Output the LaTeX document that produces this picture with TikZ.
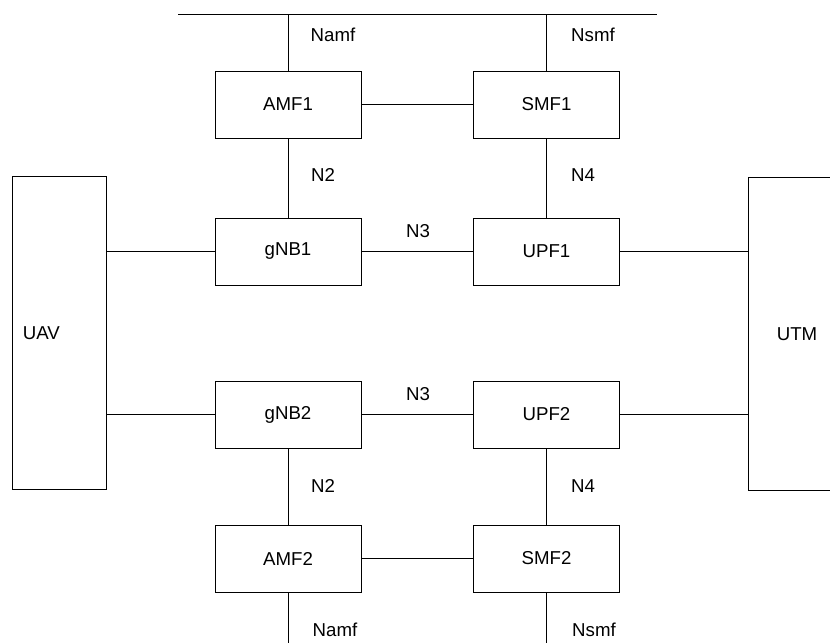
\documentclass[tikz,border=0pt]{standalone}
\usepackage{fontspec}
\setmainfont{Liberation Sans}
\usetikzlibrary{positioning, calc}

\begin{document}
\begin{tikzpicture}[
    x=0.75pt, y=-0.75pt,
    line width=0.65pt,
    nf/.style={draw, rectangle, minimum width=109.5pt, minimum height=50.25pt, align=center, fill=white, font=\fontsize{14}{16}\selectfont},
    endpoint/.style={draw, rectangle, minimum width=70pt, minimum height=235pt, fill=white, font=\fontsize{14}{16}\selectfont},
    iface/.style={font=\fontsize{14}{16}\selectfont}
]
    \useasboundingbox (0,0) rectangle (830,642);
    \clip (0,0) rectangle (830,642);

    % ================= END POINTS =================
    \node[endpoint, text width=55pt, inner xsep=7.5pt, align=left] (UAV) at (59.5, 333) {UAV};
    \node[endpoint, minimum width=73.5pt, align=center] (UTM) at (797, 334) {UTM};

    % ================= NETWORK FUNCTIONS =================
    \node[nf] (AMF1) at (288, 104.5) {AMF1};
    \node[nf] (SMF1) at (546.5, 104.5) {SMF1};
    \node[nf] (gNB1) at (288, 251.5) {gNB1};
    \node[nf] (UPF1) at (546.5, 251.5) {UPF1};
    \node[nf] (gNB2) at (288, 414.5) {gNB2};
    \node[nf] (UPF2) at (546.5, 414.5) {UPF2};
    \node[nf] (AMF2) at (288, 558.5) {AMF2};
    \node[nf] (SMF2) at (546.5, 558.5) {SMF2};

    % ================= SERVICE BUS =================
    \coordinate (busL) at (178, 14);
    \coordinate (busR) at (657, 14);
    \coordinate (floor) at (0, 646);
    \draw (busL) -- (busR);

    \draw (AMF1.north) -- (AMF1.north |- busL);
    \draw (SMF1.north) -- (SMF1.north |- busL);
    \node[iface] (namf1) at (333, 35) {Namf};
    \node[iface] (nsmf1) at (593, 35) {Nsmf};

    \draw (AMF2.south) -- (AMF2.south |- floor);
    \draw (SMF2.south) -- (SMF2.south |- floor);
    \node[iface] (namf2) at (335, 630) {Namf};
    \node[iface] (nsmf2) at (594, 630) {Nsmf};

    % ================= UPPER SLICE =================
    \draw (AMF1) -- (SMF1);
    \draw (AMF1) -- (gNB1);
    \draw (SMF1) -- (UPF1);
    \draw (gNB1) -- (UPF1);
    \node[iface] (n2a) at (323, 175) {N2};
    \node[iface] (n4a) at (583, 175) {N4};
    \node[iface] (n3a) at (418, 231) {N3};

    \draw (gNB1.west -| UAV.east) -- (gNB1.west);
    \draw (UPF1.east) -- (UPF1.east -| UTM.west);

    % ================= LOWER SLICE =================
    \draw (gNB2) -- (UPF2);
    \draw (gNB2) -- (AMF2);
    \draw (UPF2) -- (SMF2);
    \draw (AMF2) -- (SMF2);
    \node[iface] (n3b) at (418, 394) {N3};
    \node[iface] (n2b) at (323, 486) {N2};
    \node[iface] (n4b) at (583, 486) {N4};

    \draw (gNB2.west -| UAV.east) -- (gNB2.west);
    \draw (UPF2.east) -- (UPF2.east -| UTM.west);

\end{tikzpicture}
\end{document}
